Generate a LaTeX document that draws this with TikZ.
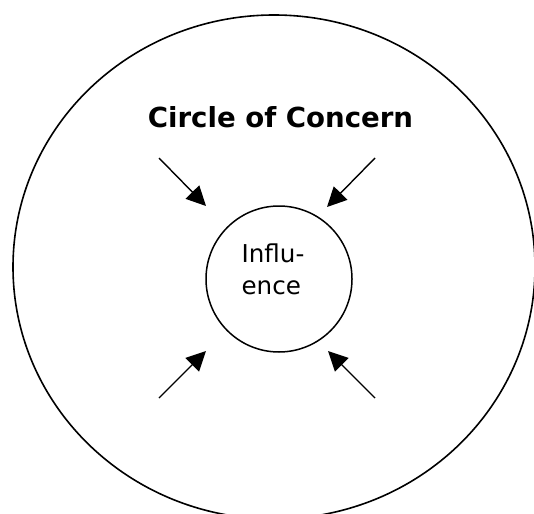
\documentclass[tikz,border=0pt]{standalone}
\usepackage{fontspec}
\setmainfont{DejaVu Sans}
\usetikzlibrary{arrows.meta,shapes.geometric}

\begin{document}
\begin{tikzpicture}[x=0.5pt, y=-0.5pt, push/.style={-{Triangle[length=9.75pt,width=9.5pt]}, line width=0.7pt}]
\useasboundingbox (0,0) rectangle (534,513);
\clip (0,0) rectangle (534,513);
\node[draw, ellipse, minimum width=261pt, minimum height=252pt, line width=0.8pt] (concern) at (274,267) {};
\node[font=\bfseries\fontsize{13.8}{16}\selectfont, anchor=base] (title) at (280.5,128) {Circle of Concern};
\node[draw, circle, minimum size=73pt, line width=0.75pt] (influence) at (279,279) {};
\node[align=left, inner sep=0pt, font=\fontsize{12.3}{16}\selectfont] (inftext) at (273,269) {Influ-\\ence};

\coordinate (tlA) at (159,158);
\coordinate (tlB) at (206,206);
\coordinate (trA) at (375,158);
\coordinate (trB) at (327,207);
\coordinate (blA) at (159,398);
\coordinate (blB) at (206,351);
\coordinate (brA) at (375,398);
\coordinate (brB) at (328,351);

\draw[push] (tlA) -- (tlB);
\draw[push] (trA) -- (trB);
\draw[push] (blA) -- (blB);
\draw[push] (brA) -- (brB);
\end{tikzpicture}
\end{document}
